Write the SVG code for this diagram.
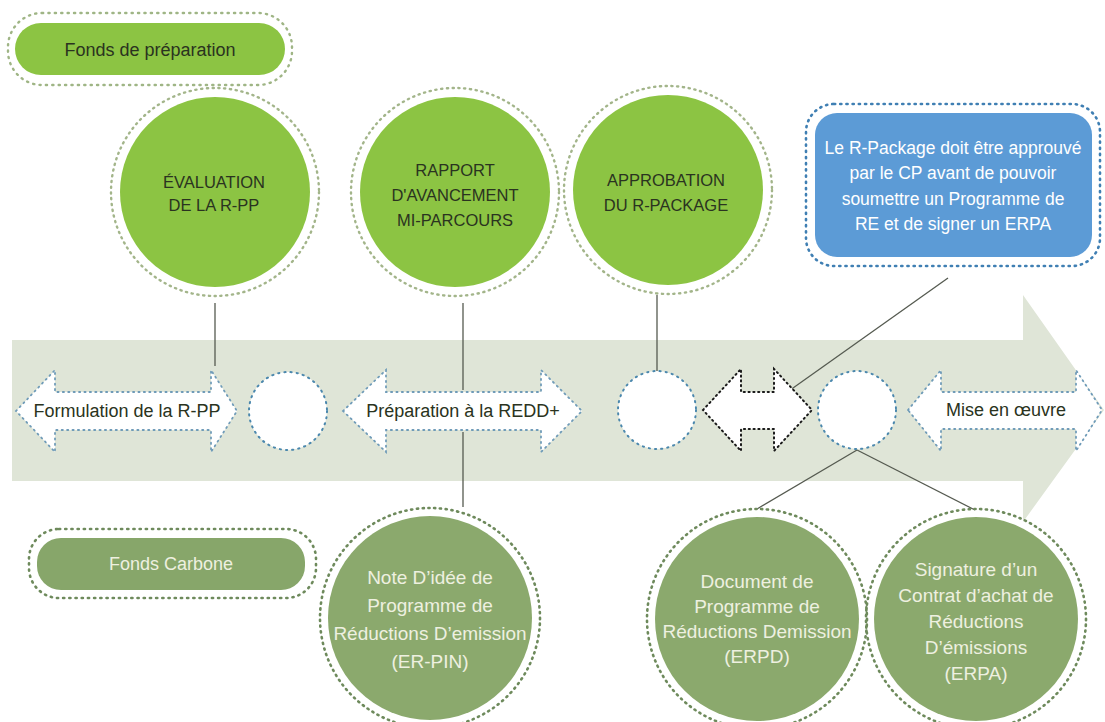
<svg xmlns="http://www.w3.org/2000/svg" width="1105" height="722" viewBox="0 0 1105 722">
<style>
.t{font-family:"Liberation Sans",Arial,sans-serif;text-anchor:middle}
.dk{fill:#2a3320}
.lt{fill:#eef0e0}
.wt{fill:#ffffff}
.ringTop{fill:none;stroke:#a3b58a;stroke-width:2.4;stroke-dasharray:1.2 4.6;stroke-linecap:round}
.ringLow{fill:none;stroke:#6e8a5c;stroke-width:2.6;stroke-dasharray:1.2 4.6;stroke-linecap:round}
.fTop{fill:#8cc443}
.fLow{fill:#8ba96d}
.arr{fill:#ffffff;stroke:#6f9bb8;stroke-width:1.8;stroke-dasharray:1.2 4.2;stroke-linecap:round}
.arrB{fill:#ffffff;stroke:#1a1a1a;stroke-width:2;stroke-dasharray:1.2 3.6;stroke-linecap:round}
.wc{fill:#ffffff;stroke:#4a87ad;stroke-width:2;stroke-dasharray:1.2 5;stroke-linecap:round}
.ln{stroke:#555a50;stroke-width:1.3;fill:none}
</style>

<!-- background big arrow -->
<path id="band" d="M12,340 H1023 V295 L1104,410 L1023,522 V481 H12 Z" fill="#dfe5d7"/>

<g id="connectors">
<line class="ln" x1="215" y1="303" x2="215" y2="366"/>
<line class="ln" x1="463" y1="303" x2="463" y2="390"/>
<line class="ln" x1="463" y1="432" x2="463" y2="507"/>
<line class="ln" x1="657" y1="295" x2="657" y2="408"/>
<line class="ln" x1="948" y1="278" x2="762" y2="410"/>
<line class="ln" x1="857" y1="450" x2="757" y2="509"/>
<line class="ln" x1="857" y1="450" x2="975" y2="510"/>
</g>

<g id="fonds-preparation">
<rect x="8" y="13" width="284" height="72" rx="34" fill="none" stroke="#9fb585" stroke-width="2.4" stroke-dasharray="1.2 5.2" stroke-linecap="round"/>
<rect x="15" y="23" width="270" height="52" rx="26" fill="#8cc443"/>
<text class="t dk" x="150" y="56" font-size="18">Fonds de préparation</text>
</g>

<g id="evaluation">
<circle class="ringTop" cx="215" cy="192" r="104"/>
<circle class="fTop" cx="215" cy="192" r="95"/>
<text class="t dk" x="214" y="188" font-size="16.5">ÉVALUATION</text>
<text class="t dk" x="214" y="211" font-size="16.5">DE LA R-PP</text>
</g>

<g id="rapport">
<circle class="ringTop" cx="455" cy="192" r="104"/>
<circle class="fTop" cx="455" cy="192" r="95"/>
<text class="t dk" x="455" y="176" font-size="16.5">RAPPORT</text>
<text class="t dk" x="455" y="201" font-size="16.5">D'AVANCEMENT</text>
<text class="t dk" x="455" y="226" font-size="16.5">MI-PARCOURS</text>
</g>

<g id="approbation">
<circle class="ringTop" cx="668" cy="190" r="104"/>
<circle class="fTop" cx="668" cy="190" r="95"/>
<text class="t dk" x="666" y="186" font-size="16.5">APPROBATION</text>
<text class="t dk" x="666" y="211" font-size="16.5">DU R-PACKAGE</text>
</g>

<g id="note-rpackage">
<rect x="806" y="104" width="294" height="162" rx="28" fill="none" stroke="#3f7fb3" stroke-width="2.6" stroke-dasharray="1.2 5" stroke-linecap="round"/>
<rect x="815" y="113" width="277" height="144" rx="22" fill="#5c9bd6"/>
<text class="t wt" x="953" y="154" font-size="17.5">Le R-Package doit être approuvé</text>
<text class="t wt" x="953" y="179" font-size="17.5">par le CP avant de pouvoir</text>
<text class="t wt" x="953" y="205" font-size="17.5">soumettre un Programme de</text>
<text class="t wt" x="953" y="230" font-size="17.5">RE et de signer un ERPA</text>
</g>

<g id="formulation">
<path class="arr" d="M16,411 L55,370 V392 H211 V370 L237,411 L211,452 V430 H55 V452 Z"/>
<text class="t dk" x="127" y="417" font-size="18">Formulation de la R-PP</text>
</g>

<g id="jalon1">
<circle class="wc" cx="288" cy="411" r="39"/>
</g>

<g id="preparation">
<path class="arr" d="M343,411 L386,370 V392 H541 V370 L582,411 L541,452 V430 H386 V452 Z"/>
<text class="t dk" x="463" y="417" font-size="18">Préparation à la REDD+</text>
</g>

<g id="jalon2">
<circle class="wc" cx="657" cy="410" r="39"/>
</g>

<g id="transition">
<path class="arrB" d="M703,410 L741,369 V392 H774 V369 L812,410 L774,451 V429 H741 V451 Z"/>
</g>

<g id="jalon3">
<circle class="wc" cx="857" cy="410" r="39"/>
</g>

<g id="mise-en-oeuvre">
<path class="arr" d="M908,410 L941,370 V392 H1076 V370 L1102,410 L1076,451 V429 H941 V451 Z"/>
<text class="t dk" x="1006" y="416" font-size="18">Mise en œuvre</text>
</g>

<g id="fonds-carbone">
<rect x="29" y="529" width="287" height="69" rx="30" fill="none" stroke="#6e8a5c" stroke-width="2.6" stroke-dasharray="1.2 5" stroke-linecap="round"/>
<rect x="37" y="538" width="268" height="52" rx="24" fill="#87a66a"/>
<text class="t lt" x="171" y="570" font-size="18">Fonds Carbone</text>
</g>

<g id="er-pin">
<circle class="ringLow" cx="430" cy="618" r="110"/>
<circle class="fLow" cx="430" cy="618" r="102"/>
<text class="t lt" x="430" y="584" font-size="19">Note D’idée de</text>
<text class="t lt" x="430" y="612" font-size="19">Programme de</text>
<text class="t lt" x="430" y="640" font-size="19">Réductions D’emission</text>
<text class="t lt" x="430" y="668" font-size="19">(ER-PIN)</text>
</g>

<g id="erpd">
<circle class="ringLow" cx="757" cy="619" r="110"/>
<circle class="fLow" cx="757" cy="619" r="102"/>
<text class="t lt" x="757" y="588" font-size="19">Document de</text>
<text class="t lt" x="757" y="613" font-size="19">Programme de</text>
<text class="t lt" x="757" y="638" font-size="19">Réductions Demission</text>
<text class="t lt" x="757" y="663" font-size="19">(ERPD)</text>
</g>

<g id="erpa">
<circle class="ringLow" cx="976" cy="619" r="110"/>
<circle class="fLow" cx="976" cy="619" r="102"/>
<text class="t lt" x="976" y="576" font-size="19">Signature d’un</text>
<text class="t lt" x="976" y="602" font-size="19">Contrat d’achat de</text>
<text class="t lt" x="976" y="628" font-size="19">Réductions</text>
<text class="t lt" x="976" y="654" font-size="19">D’émissions</text>
<text class="t lt" x="976" y="680" font-size="19">(ERPA)</text>
</g>
</svg>
